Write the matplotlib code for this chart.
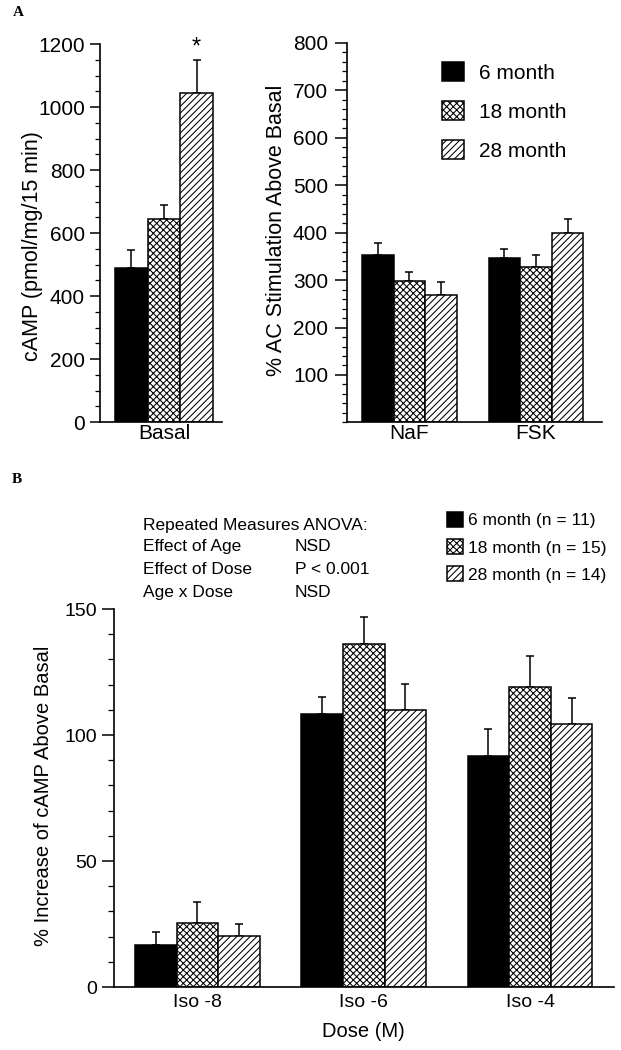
import matplotlib
matplotlib.use('Agg')
import matplotlib.pyplot as plt
import numpy as np
from matplotlib.ticker import MultipleLocator, FixedLocator

plt.rcParams['font.family'] = ['Liberation Sans', 'DejaVu Sans']
plt.rcParams['hatch.linewidth'] = 0.75

# ---------------- data ----------------
ages = ['6 month', '18 month', '28 month']
ages_n = ['6 month (n = 11)', '18 month (n = 15)', '28 month (n = 14)']

basal_cats = ['Basal']
basal_6 = [490]
basal_18 = [645]
basal_28 = [1045]
basal_6_err = [55]
basal_18_err = [45]
basal_28_err = [103]

stim_cats = ['NaF', 'FSK']
stim_6 = [353, 347]
stim_18 = [299, 328]
stim_28 = [269, 399]
stim_6_err = [26, 19]
stim_18_err = [19, 26]
stim_28_err = [26, 30]

dose_cats = ['Iso -8', 'Iso -6', 'Iso -4']
dose_6 = [16.7, 108.3, 91.7]
dose_18 = [25.4, 136.1, 119.0]
dose_28 = [20.2, 109.9, 104.4]
dose_6_err = [5.1, 6.7, 10.7]
dose_18_err = [8.3, 10.7, 12.3]
dose_28_err = [4.8, 10.3, 10.3]

anova_rows = ['Effect of Age', 'Effect of Dose', 'Age x Dose']
anova_vals = ['NSD', 'P < 0.001', 'NSD']

# ---------------- style ----------------
faces = ['black', 'white', 'white']
hatches = [None, 'xxxxx', '/////']

W, H, DPI = 621, 1050, 100
fig = plt.figure(figsize=(W / DPI, H / DPI), dpi=DPI)


def rect(x0, ytop, x1, ybot):
    return [x0 / W, 1 - ybot / H, (x1 - x0) / W, (ybot - ytop) / H]


def draw_bars(ax, cats, means, errs, labels, width=0.25):
    x = np.arange(len(cats))
    conts = []
    for i, (m, e) in enumerate(zip(means, errs)):
        pos = x + (i - 1) * width
        c = ax.bar(pos, m, width, color=faces[i], edgecolor='black',
                   hatch=hatches[i], linewidth=1.1, label=labels[i], zorder=2)
        ax.errorbar(pos, m, yerr=[np.zeros(len(m)), e], fmt='none',
                    ecolor='black', elinewidth=1.1, capsize=3.2,
                    capthick=1.1, zorder=1)
        conts.append(c)
    ax.set_xticks(x)
    ax.set_xticklabels(cats)
    return conts


def style(ax, fs, major_len, minor_len, ypad, xpad):
    for s in ['top', 'right']:
        ax.spines[s].set_visible(False)
    for s in ['left', 'bottom']:
        ax.spines[s].set_linewidth(1.2)
    ax.tick_params(axis='y', which='major', direction='out', length=major_len,
                   width=1.1, labelsize=fs, pad=ypad)
    ax.tick_params(axis='y', which='minor', direction='out', length=minor_len,
                   width=0.9)
    ax.tick_params(axis='x', length=0, labelsize=fs, pad=xpad)


# ---------------- Panel A left ----------------
axL = fig.add_axes(rect(100, 44, 222, 422))
draw_bars(axL, basal_cats, [basal_6, basal_18, basal_28],
          [basal_6_err, basal_18_err, basal_28_err], ages)
axL.set_xlim(-0.492, 0.446)
axL.set_ylim(0, 1200)
axL.yaxis.set_major_locator(MultipleLocator(200))
axL.yaxis.set_minor_locator(MultipleLocator(50))
style(axL, 15, 7.2, 3.6, 3.6, 1.5)
axL.set_ylabel('cAMP (pmol/mg/15 min)', fontsize=15.5, va='center')
axL.yaxis.set_label_coords(-0.557, 0.466)
axL.annotate('*', xy=(0.25, basal_28[0] + basal_28_err[0]), xytext=(0, 1),
             textcoords='offset points', ha='center', va='bottom', fontsize=17)

# ---------------- Panel A right ----------------
axR = fig.add_axes(rect(347, 43, 602, 422.4))
contsR = draw_bars(axR, stim_cats, [stim_6, stim_18, stim_28],
                   [stim_6_err, stim_18_err, stim_28_err], ages)
axR.set_xlim(-0.494, 1.522)
axR.set_ylim(0, 800)
axR.yaxis.set_major_locator(FixedLocator(np.arange(100, 801, 100)))
axR.yaxis.set_minor_locator(MultipleLocator(20))
style(axR, 15, 8.6, 3.6, 5.0, 1.5)
axR.set_ylabel('% AC Stimulation Above Basal', fontsize=15.5, va='center')
axR.yaxis.set_label_coords(-0.278, 0.507)
axR.legend(handles=contsR, loc='upper left', frameon=False, fontsize=15,
           bbox_to_anchor=(442 / W, 1 - 62 / H), bbox_transform=fig.transFigure,
           borderpad=0, borderaxespad=0, handlelength=1.06, handleheight=1.06,
           labelspacing=0.87, handletextpad=0.72)

# ---------------- Panel B ----------------
axB = fig.add_axes(rect(114, 609, 614, 987))
contsB = draw_bars(axB, dose_cats, [dose_6, dose_18, dose_28],
                   [dose_6_err, dose_18_err, dose_28_err], ages_n)
axB.set_xlim(-0.502, 2.505)
axB.set_ylim(0, 150)
axB.yaxis.set_major_locator(MultipleLocator(50))
axB.yaxis.set_minor_locator(MultipleLocator(10))
style(axB, 14, 8.6, 4.3, 3.6, 4.7)
axB.set_ylabel('% Increase of cAMP Above Basal', fontsize=14.5, va='center')
axB.yaxis.set_label_coords(-0.14, 0.505)
axB.set_xlabel('Dose (M)', fontsize=14.5, va='center')
axB.xaxis.set_label_coords(0.498, -0.119)
axB.legend(handles=contsB, loc='upper left', frameon=False, fontsize=12.5,
           bbox_to_anchor=(447 / W, 1 - 512 / H), bbox_transform=fig.transFigure,
           borderpad=0, borderaxespad=0, handlelength=0.92, handleheight=0.92,
           labelspacing=0.63, handletextpad=0.3)


def ay(ypix):
    return (987 - ypix) / 378


axB.text(0.058, ay(530), 'Repeated Measures ANOVA:', transform=axB.transAxes,
         fontsize=12.5, va='baseline', ha='left', clip_on=False)
for i, (r, v) in enumerate(zip(anova_rows, anova_vals)):
    yb = [551, 574, 597][i]
    axB.text(0.058, ay(yb), r, transform=axB.transAxes, fontsize=12.5,
             va='baseline', ha='left', clip_on=False)
    axB.text(0.362, ay(yb), v, transform=axB.transAxes, fontsize=12.5,
             va='baseline', ha='left', clip_on=False)

# panel letters
fig.text(18 / W, 1 - 12 / H, 'A', family=['Liberation Serif', 'DejaVu Serif'],
         weight='bold', fontsize=11, ha='center', va='center')
fig.text(17 / W, 1 - 480 / H, 'B', family=['Liberation Serif', 'DejaVu Serif'],
         weight='bold', fontsize=11, ha='center', va='center')

fig.savefig('out.png', dpi=DPI)
